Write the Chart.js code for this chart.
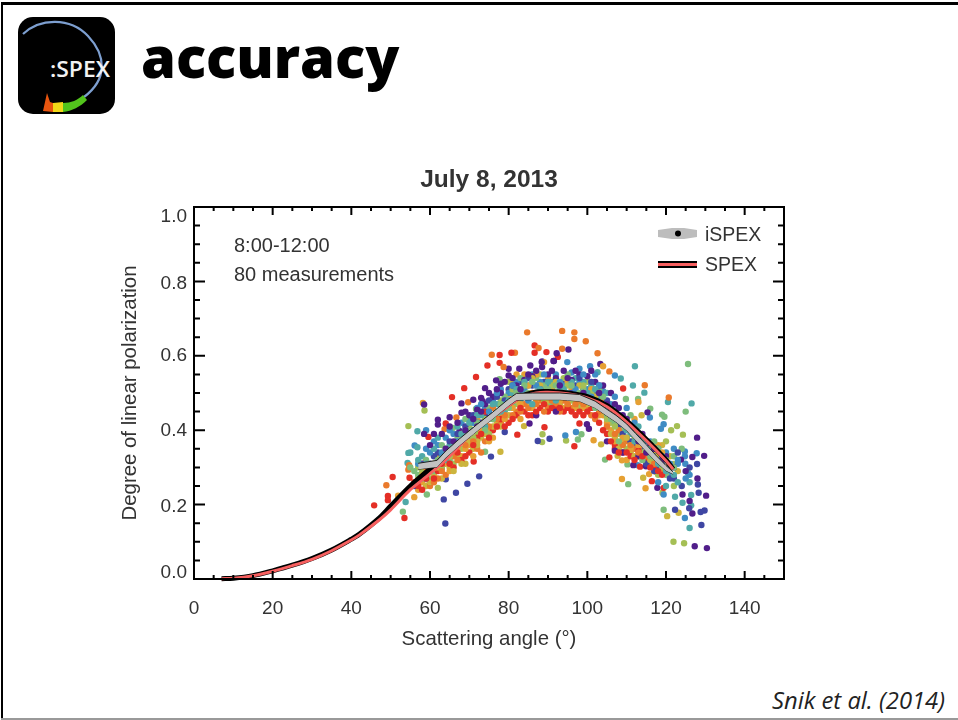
<!DOCTYPE html>
<html>
<head>
<meta charset="utf-8">
<title>accuracy</title>
<script src="https://cdn.jsdelivr.net/npm/chart.js@4"></script>
<style>
html, body { margin: 0; padding: 0; background: #fff; }
#slide { position: relative; width: 958px; height: 720px; overflow: hidden; }
.edge { position: absolute; }
#edgeTop { left: 1px; top: 2px; width: 957px; height: 3px; background: #000; }
#edgeLeft { left: 1px; top: 2px; width: 2px; height: 717px; background: #000; }
#edgeBottom { left: 1px; top: 718px; width: 957px; height: 2px; background: #999; }
#logo { position: absolute; left: 18px; top: 17px; width: 97px; height: 97px; }
#heading { position: absolute; left: 141px; top: 16px; margin: 0; font: 800 56px "Open Sans", sans-serif; line-height: 80px; color: #000; }
#cite { position: absolute; right: 13px; top: 684px; font: italic 23.8px "Open Sans", sans-serif; color: #222; }
#plotBox { position: absolute; left: 110px; top: 160px; width: 758px; height: 500px; filter: blur(0.35px); }
</style>
</head>
<body>
<div id="slide">
  <div class="edge" id="edgeTop"></div>
  <div class="edge" id="edgeLeft"></div>
  <div class="edge" id="edgeBottom"></div>
  <svg id="logo" viewBox="0 0 97 97">
    <rect width="97" height="97" rx="15" fill="#000"/>
    <path d="M5 17 C 22 1, 52 0, 70 19 C 88 38, 90 62, 66 80" fill="none" stroke="#7d9fd0" stroke-width="2.2"/>
    <path d="M25 94 L 29 76 L 32 85 L 35 86 L 35 95 Z" fill="#e8550f"/>
    <path d="M35 86 L 45 85 L 45 95 L 35 95 Z" fill="#f2d818"/>
    <path d="M45 86 C 53 86, 60 83, 65 78 L 69 83 C 62 90, 54 94, 45 95 Z" fill="#52c41c"/>
    <text x="32" y="60" fill="#f2f2f2" font-family="Open Sans, sans-serif" font-size="22" font-weight="600" textLength="60" lengthAdjust="spacingAndGlyphs">:SPEX</text>
  </svg>
  <h1 id="heading">accuracy</h1>
  <div id="plotBox"><canvas id="polChart"></canvas></div>
  <div id="cite">Snik et al. (2014)</div>
</div>
<script>
const xTickStep = 20;
const yTickStep = 0.2;
const yLabelShift = [-6, 2.5, 1, 0, 2, 10];
const plotTitle = 'July 8, 2013';
const notes = ['8:00-12:00', '80 measurements'];

const pointColors = ['#511e8a', '#3f46a3', '#3f8cc4', '#50a9a8', '#7ebd7c', '#a5bf55', '#ccb53e', '#e6a033', '#ea7a2c', '#e42f26'];

// [scattering angle, degree of linear polarization], one list per colour
const purplePts = [[80,.565],[82.7,.565],[85.5,.574],[88.5,.57],[88.5,.585],[91.5,.586],[74,.513],[76.8,.534],[80,.547],[68,.472],[71,.482],[73,.487],[73.4,.478],[58.5,.469],[62,.428],[62,.415],[65,.435],[68,.447],[67.5,.398],[58.5,.39],[85.3,.418],[95.2,.617],[92.2,.607],[91.4,.586],[88.4,.583],[103.3,.578],[115.3,.448],[127.9,.38],[129.7,.331],[126.7,.328],[123.8,.321],[130.2,.224],[124.2,.227],[126.7,.176],[127.3,.088],[130.4,.083],[117.8,.245],[111.7,.306],[114.9,.303],[100.4,.404],[99.9,.416],[70,.44],[72,.455],[74,.47],[76,.49],[78,.5],[78,.525],[82,.52],[84,.535],[86,.545],[90,.55],[92,.54],[94,.56],[96,.535],[98,.55],[100,.545],[102,.53],[104,.52],[106,.5],[108,.46],[110,.43],[112,.4],[114,.39],[116,.36],[118,.33],[120,.33],[122,.3],[125,.29],[64,.35],[66,.37],[69,.4],[72,.41],[60,.36],[105,.37],[107,.345],[109,.34],[113,.33],[92,.45],[87,.44],[126,.21],[128,.27],
    [61,.39],[63,.39],[65,.41],[67,.42],[69,.45],[71,.43],[73,.45],[75,.5],[77,.51],[79,.53],[81,.54],[83,.51],[85,.55],[87,.56],[89,.5],[91,.56],[93,.52],[95,.54],[97,.56],[99,.5],[101,.56],[103,.5],[105,.47],[107,.47],[109,.44],[111,.41],[113,.37],[115,.34],[117,.35],[119,.32]];
const indigoPts = [[63.9,.149],[63.5,.214],[66.6,.232],[69.5,.256],[72.5,.276],[75.5,.329],[64,.268],[79,.395],[90.4,.377],[87.4,.371],[60,.31],[61,.33],[63,.3],[66,.35],[68,.37],[70,.38],[72,.42],[74,.44],[76,.46],[78,.47],[80,.51],[83,.53],[86,.52],[89,.53],[91,.51],[94,.53],[97,.52],[99,.51],[102,.5],[104,.47],[106,.43],[108,.41],[110,.38],[112,.36],[114,.35],[116,.32],[118,.3],[122,.27],[124,.25],[126,.3],[129,.145],[128.8,.18],[129.8,.184],[125.9,.19],[122.3,.186],[128.1,.254],[128.3,.232],[127.9,.309],[59,.27],[56,.25],
    [58,.31],[62,.34],[65,.37],[67,.39],[69,.41],[71,.44],[73,.42],[75,.48],[77,.49],[79,.48],[81,.52],[85,.54],[88,.51],[90,.5],[93,.49],[96,.5],[98,.54],[101,.53],[103,.52],[105,.48],[107,.44],[109,.39],[111,.37],[113,.38],[115,.31],[117,.29],[119,.31],[121,.27],[123,.34]];
const bluePts = [[59,.4],[56.1,.359],[112.8,.306],[124.8,.343],[124.8,.33],[124.9,.31],[127.8,.338],[119.4,.416],[118.7,.404],[115.9,.434],[94.4,.386],[97.1,.395],[98,.565],[94.9,.583],[100.7,.572],[107,.547],[60,.34],[62,.36],[64,.38],[66,.39],[68,.42],[70,.43],[72,.46],[74,.46],[76,.48],[78,.51],[80,.5],[82,.53],[84,.51],[86,.55],[88,.53],[90,.52],[92,.55],[94,.52],[96,.555],[98,.53],[100,.51],[102,.55],[104,.505],[106,.47],[108,.44],[110,.46],[112,.42],[114,.38],[116,.37],[118,.35],[120,.34],[122,.35],[119.4,.227],[124.8,.164],[123,.31],[121,.28],[118,.26],[126,.28],
    [57,.31],[59,.35],[61,.37],[63,.34],[65,.4],[67,.37],[69,.4],[71,.42],[73,.47],[75,.45],[77,.5],[79,.47],[81,.52],[83,.5],[85,.48],[87,.52],[89,.55],[91,.5],[93,.53],[95,.49],[97,.51],[99,.55],[101,.49],[103,.52],[105,.46],[107,.49],[109,.43],[111,.41],[113,.39],[115,.37],[117,.35],[119,.33],[121,.31],[123,.32],[125,.27]];
const tealPts = [[56.8,.397],[56.8,.354],[54.5,.339],[54.3,.312],[53.8,.207],[112.1,.572],[102.6,.556],[108.5,.539],[111.6,.52],[114.5,.501],[120.5,.476],[126.5,.472],[125.6,.285],[126,.26],[126.4,.226],[122.3,.221],[124.2,.205],[126.4,.198],[126,.137],[58,.33],[60,.3],[63,.33],[65,.36],[67,.41],[69,.38],[71,.4],[73,.44],[75,.43],[77,.47],[79,.45],[81,.5],[83,.48],[85,.52],[87,.5],[89,.49],[91,.53],[93,.51],[95,.5],[97,.54],[99,.53],[101,.52],[103,.49],[105,.5],[107,.46],[109,.42],[111,.39],[113,.41],[115,.35],[117,.33],[119,.3],[121,.3],[123,.26],[120,.25],
    [55,.34],[57,.32],[59,.31],[61,.35],[62,.38],[64,.32],[66,.36],[68,.39],[70,.42],[72,.44],[74,.41],[76,.47],[78,.45],[80,.48],[82,.51],[84,.53],[86,.47],[88,.51],[90,.53],[92,.48],[94,.51],[96,.53],[98,.49],[100,.5],[102,.51],[104,.47],[106,.44],[108,.43],[110,.4],[112,.37],[114,.37],[116,.35],[118,.31],[120,.29],[122,.28]];
const greenPts = [[71.7,.457],[65.8,.406],[77.7,.537],[74,.342],[59.2,.227],[53.1,.181],[97.6,.375],[98.5,.389],[125.6,.578],[109.8,.484],[112.9,.484],[125,.45],[116,.458],[119,.442],[119.6,.436],[104.5,.321],[110.2,.308],[110.4,.255],[119.4,.186],[55,.3],[57,.28],[59,.32],[61,.29],[63,.36],[65,.32],[67,.38],[69,.43],[71,.37],[73,.41],[75,.46],[77,.44],[79,.49],[81,.47],[83,.54],[85,.5],[87,.54],[89,.52],[91,.47],[93,.53],[95,.55],[97,.49],[99,.51],[101,.47],[103,.51],[105,.44],[107,.42],[109,.4],[111,.44],[113,.37],[115,.33],[117,.37],[118,.31],[120,.28],[122,.33],[124,.35],
    [56,.29],[58,.27],[60,.3],[62,.32],[64,.35],[66,.35],[68,.37],[70,.4],[72,.42],[74,.4],[76,.43],[78,.47],[80,.46],[82,.5],[84,.52],[86,.53],[88,.5],[90,.51],[92,.52],[94,.5],[96,.52],[98,.5],[100,.48],[102,.46],[104,.49],[106,.43],[108,.37],[110,.41],[112,.39],[114,.32],[116,.33],[118,.35],[120,.32],[122,.3]];
const limePts = [[58.6,.453],[54.5,.411],[62,.245],[88.6,.389],[88.5,.368],[94.6,.372],[121.9,.1],[124.6,.096],[119.1,.232],[58,.29],[60,.27],[62,.31],[64,.34],[66,.31],[68,.35],[70,.41],[72,.39],[74,.43],[76,.44],[78,.48],[80,.53],[82,.47],[84,.5],[86,.49],[88,.55],[90,.47],[92,.49],[94,.54],[96,.48],[98,.46],[100,.53],[102,.48],[104,.46],[106,.42],[108,.39],[110,.35],[112,.38],[114,.34],[116,.31],[118,.28],[120,.37],[122,.25],[121.3,.4],[122.8,.411],[124.3,.388],[121.8,.309],
    [57,.3],[59,.28],[61,.31],[63,.3],[65,.33],[67,.36],[69,.37],[71,.38],[73,.42],[75,.39],[77,.45],[79,.47],[81,.51],[83,.49],[85,.54],[87,.52],[89,.48],[91,.52],[93,.5],[95,.52],[97,.47],[99,.52],[101,.5],[103,.47],[105,.43],[107,.41],[109,.36],[111,.36],[113,.33],[115,.35],[117,.32],[119,.3]];
const yellowPts = [[77.9,.342],[83.9,.411],[103.5,.362],[107.7,.331],[113.8,.44],[114.2,.272],[116.1,.301],[123.2,.178],[120.3,.169],[57,.27],[59,.25],[61,.28],[63,.27],[65,.3],[67,.33],[69,.31],[71,.35],[73,.38],[75,.4],[77,.42],[79,.46],[81,.53],[83,.46],[85,.47],[87,.47],[89,.51],[91,.49],[93,.47],[95,.47],[97,.5],[99,.48],[101,.5],[103,.46],[105,.41],[107,.38],[109,.37],[111,.34],[113,.35],[115,.32],[117,.34],[119,.36],[121,.33],[123,.29],[80,.44],[76,.41],[72,.37],
    [58,.28],[60,.26],[62,.3],[64,.32],[66,.29],[68,.31],[70,.37],[72,.36],[74,.39],[76,.43],[78,.41],[80,.48],[82,.48],[84,.49],[86,.54],[88,.52],[90,.48],[92,.53],[94,.49],[96,.49],[98,.52],[100,.47],[102,.49],[104,.45],[106,.39],[108,.35],[110,.38],[112,.33],[114,.33],[116,.32],[118,.33]];
const orangePts = [[58.2,.473],[51.9,.224],[56,.22],[57,.24],[58,.26],[60,.29],[62,.33],[64,.31],[66,.34],[68,.33],[70,.36],[72,.43],[74,.42],[76,.38],[78,.44],[80,.49],[82,.55],[84,.55],[86,.46],[88,.49],[90,.54],[89,.583],[92,.5],[94,.46],[96,.51],[98,.47],[100,.49],[102,.47],[104,.572],[104,.44],[106,.4],[108,.36],[110,.32],[112,.43],[113,.476],[114,.37],[115.7,.282],[114.8,.244],[108.8,.319],[108.8,.269],[101.6,.373],[117,.31],[118,.36],[120,.3],[87,.55],[83,.43],
    [59,.28],[61,.3],[63,.32],[65,.29],[67,.35],[69,.35],[71,.33],[73,.4],[75,.37],[77,.41],[79,.43],[81,.46],[83,.47],[85,.52],[87,.48],[89,.47],[91,.51],[93,.48],[95,.53],[97,.46],[99,.46],[101,.51],[103,.44],[105,.42],[107,.37],[109,.38],[111,.35],[113,.36],[115,.34],[116,.33],[119,.34]];
const darkOrangePts = [[84.7,.663],[87.6,.621],[75.7,.603],[81.6,.608],[69.7,.475],[66.7,.434],[63.7,.403],[54.7,.306],[54.5,.294],[48.9,.252],[93.6,.667],[96.7,.663],[96.7,.645],[99.6,.639],[93.6,.619],[102.6,.607],[105.6,.558],[114.6,.521],[120.7,.488],[117.4,.288],[78.7,.57],[58,.31],[60,.25],[62,.27],[64,.28],[66,.33],[68,.39],[70,.39],[72,.35],[74,.37],[76,.46],[78,.42],[80,.47],[82,.45],[84,.47],[86,.5],[88,.48],[90,.46],[92,.47],[94,.48],[96,.46],[98,.48],[100,.46],[102,.43],[104,.48],[106,.45],[108,.4],[110,.37],[112,.35],[114,.36],[116,.34],[118,.32],[119,.29],
    [59,.3],[61,.26],[63,.29],[65,.31],[67,.32],[69,.36],[71,.37],[73,.34],[75,.41],[77,.43],[79,.44],[81,.44],[83,.45],[85,.46],[87,.47],[89,.45],[91,.48],[93,.45],[95,.47],[97,.47],[99,.47],[101,.44],[103,.45],[105,.41],[107,.39],[109,.36],[111,.36],[113,.34],[115,.33],[117,.31]];
const redPts = [[86.6,.628],[86.6,.608],[89.6,.61],[92.5,.597],[77.7,.602],[80.7,.608],[74.6,.574],[77.7,.581],[71.7,.543],[68.7,.513],[65.6,.489],[59.6,.382],[64,.418],[54.8,.272],[50.5,.274],[49.3,.223],[49.3,.212],[45.8,.198],[53.5,.164],[71.1,.316],[82.2,.388],[89.1,.408],[96.7,.357],[98,.418],[105.6,.327],[113.4,.302],[116.4,.263],[119.4,.245],[109.1,.512],[56,.26],[58,.24],[60,.26],[62,.29],[64,.33],[66,.3],[68,.32],[70,.34],[72,.38],[74,.45],[76,.4],[78,.43],[80,.42],[82,.44],[84,.45],[86,.44],[88,.46],[90,.45],[91,.46],[92,.455],[94,.45],[95,.46],[97,.44],[99,.44],[101,.46],[103,.42],[105,.39],[107,.35],[107,.36],[109,.34],[111,.33],[113,.345],[115,.315],[117,.3],[119,.28],
    [57,.25],[59,.27],[61,.27],[63,.31],[65,.31],[67,.34],[69,.33],[71,.36],[73,.39],[75,.38],[77,.41],[79,.41],[81,.43],[83,.46],[85,.44],[87,.45],[89,.47],[93,.46],[96,.45],[98,.45],[100,.45],[102,.44],[104,.4],[106,.37],[108,.34],[110,.34],[112,.32],[114,.33],[116,.3],[118,.29]];

const colourLists = [purplePts, indigoPts, bluePts, tealPts, greenPts, limePts, yellowPts, orangePts, darkOrangePts, redPts];

const spexAngles = [7, 10, 15, 20, 25, 30, 35, 40, 42, 47, 50, 55, 60, 65, 70, 75, 80, 83, 87, 90, 95, 100, 105, 110, 115, 120, 121.8];
const spexValues = [.001, .002, .009, .021, .036, .053, .076, .105, .118, .158, .186, .24, .283, .33, .385, .428, .465, .487, .5, .502, .498, .487, .463, .422, .372, .318, .295];
const spexEdge = [.001, .002, .009, .022, .037, .055, .078, .107, .12, .163, .196, .25, .296, .342, .39, .432, .47, .49, .503, .504, .5, .49, .466, .425, .375, .32, .295];

const ispexAngles = [57, 61.8, 64, 67.5, 72, 76, 80, 82, 86, 90, 93, 98, 102, 105, 107.3, 110, 112.3, 115, 117.4, 120, 121.8];
const ispexUpper = [.311, .319, .344, .377, .416, .449, .484, .499, .5, .5, .5, .496, .478, .456, .44, .417, .391, .361, .333, .305, .288];
const ispexLower = [.295, .301, .326, .359, .398, .431, .466, .481, .482, .482, .482, .478, .46, .438, .422, .399, .373, .343, .315, .291, .282];

function zipPoints(xs, ys) {
    return xs.map((x, i) => ({ x: x, y: ys[i] }));
}

// take the colour lists in turn, so that no colour ends up on top of all the others
function mergeScatter() {
    const merged = [];
    const colors = [];
    const longest = Math.max(...colourLists.map(list => list.length));
    for (let i = 0; i < longest; i++) {
        colourLists.forEach((list, c) => {
            if (i < list.length) {
                merged.push({ x: list[i][0], y: list[i][1] });
                colors.push(pointColors[c]);
            }
        });
    }
    return { merged, colors };
}

// inward ticks on all four sides, the frame, and the two notes with the legend
const framePlugin = {
    id: 'frame',
    beforeDraw(chart) {
        const items = chart.scales.y.getLabelItems();
        items.forEach((item, i) => {
            if (!item.shifted) {
                item.options.translation[1] += yLabelShift[i];
                item.shifted = true;
            }
        });
    },
    afterDraw(chart) {
        const ctx = chart.ctx;
        const area = chart.chartArea;
        const sx = chart.scales.x;
        const sy = chart.scales.y;
        ctx.save();
        ctx.strokeStyle = '#000';
        ctx.lineWidth = 2;
        ctx.strokeRect(area.left, area.top, area.right - area.left, area.bottom - area.top);

        ctx.beginPath();
        for (let v = 0; v <= 150; v += 5) {
            const px = sx.getPixelForValue(v);
            const len = v % xTickStep === 0 ? 8 : 4;
            ctx.moveTo(px, area.bottom);
            ctx.lineTo(px, area.bottom - len);
            ctx.moveTo(px, area.top);
            ctx.lineTo(px, area.top + len);
        }
        for (let n = 0; n <= 20; n++) {
            const py = sy.getPixelForValue(n / 20);
            const len = n % 4 === 0 ? 11 : 6;
            ctx.moveTo(area.left, py);
            ctx.lineTo(area.left + len, py);
            ctx.moveTo(area.right, py);
            ctx.lineTo(area.right - len, py);
        }
        ctx.stroke();

        ctx.fillStyle = '#333';
        ctx.font = '20px "Liberation Sans", sans-serif';
        ctx.textBaseline = 'middle';
        ctx.textAlign = 'left';
        ctx.fillText(notes[0], area.left + 40, area.top + 39);
        ctx.fillText(notes[1], area.left + 40, area.top + 68);

        // legend
        const lx = area.right - 126;
        ctx.font = '19.5px "Liberation Sans", sans-serif';
        ctx.fillText('iSPEX', area.right - 79, area.top + 29);
        ctx.fillText('SPEX', area.right - 79, area.top + 59);
        ctx.fillStyle = '#bdbdbd';
        ctx.beginPath();
        ctx.moveTo(lx, area.top + 23);
        ctx.lineTo(lx + 14, area.top + 21);
        ctx.lineTo(lx + 26, area.top + 21);
        ctx.lineTo(lx + 39, area.top + 23);
        ctx.lineTo(lx + 39, area.top + 30);
        ctx.lineTo(lx + 26, area.top + 32);
        ctx.lineTo(lx + 14, area.top + 32);
        ctx.lineTo(lx, area.top + 30);
        ctx.closePath();
        ctx.fill();
        ctx.fillStyle = '#000';
        ctx.beginPath();
        ctx.arc(lx + 20, area.top + 26.5, 3, 0, Math.PI * 2);
        ctx.fill();
        ctx.fillRect(lx, area.top + 54, 39, 7);
        ctx.fillStyle = '#f76060';
        ctx.fillRect(lx, area.top + 56, 39, 3);
        ctx.restore();
    }
};

function createPolarizationChart() {
    const ctx = document.getElementById('polChart').getContext('2d');
    const scatter = mergeScatter();
    const tickFont = { family: '"Liberation Sans", sans-serif', size: 19 };
    const nameFont = { family: '"Liberation Sans", sans-serif', size: 20.4 };

    new Chart(ctx, {
        type: 'scatter',
        data: {
            datasets: [
                { data: zipPoints(ispexAngles, ispexUpper), showLine: true, pointRadius: 0, borderColor: '#222', borderWidth: 1, backgroundColor: '#c2c2c2', fill: '+1', order: 1 },
                { data: zipPoints(ispexAngles, ispexLower), showLine: true, pointRadius: 0, borderColor: '#222', borderWidth: 1, order: 1 },
                { data: zipPoints(spexAngles, spexValues), showLine: true, pointRadius: 0, borderColor: '#f76060', borderWidth: 3, tension: 0.3, clip: false, order: 2 },
                { data: zipPoints(spexAngles, spexEdge), showLine: true, pointRadius: 0, borderColor: '#000', borderWidth: 5, tension: 0.3, clip: false, order: 3 },
                { data: scatter.merged, pointRadius: 3.2, pointBorderWidth: 0, pointBackgroundColor: scatter.colors, order: 4 }
            ]
        },
        options: {
            animation: false,
            responsive: true,
            maintainAspectRatio: false,
            layout: { padding: { right: 84 } },
            plugins: {
                legend: { display: false },
                tooltip: { enabled: false },
                title: {
                    display: true,
                    text: plotTitle,
                    fullSize: false,
                    color: '#333',
                    font: { family: '"Liberation Sans", sans-serif', size: 24.5, weight: 'bold' },
                    padding: { top: 6, bottom: 11.6 }
                }
            },
            scales: {
                x: {
                    type: 'linear',
                    min: 0,
                    max: 150,
                    afterFit(scale) { scale.height = 81; },
                    grid: { display: false },
                    border: { color: '#000', width: 2 },
                    ticks: { stepSize: xTickStep, includeBounds: false, color: '#333', font: tickFont, padding: 10, maxRotation: 0 },
                    title: { display: true, text: 'Scattering angle (°)', color: '#333', font: nameFont, padding: { top: 0, bottom: 8 } }
                },
                y: {
                    type: 'linear',
                    min: 0,
                    max: 1,
                    afterFit(scale) { scale.width = 84; },
                    grid: { display: false },
                    border: { color: '#000', width: 2 },
                    ticks: { stepSize: yTickStep, color: '#333', font: tickFont, padding: -1, callback: v => v.toFixed(1) },
                    title: { display: true, text: 'Degree of linear polarization', color: '#333', font: nameFont, padding: { top: 8, bottom: 0 } }
                }
            }
        },
        plugins: [framePlugin]
    });
}

createPolarizationChart();
</script>
</body>
</html>
